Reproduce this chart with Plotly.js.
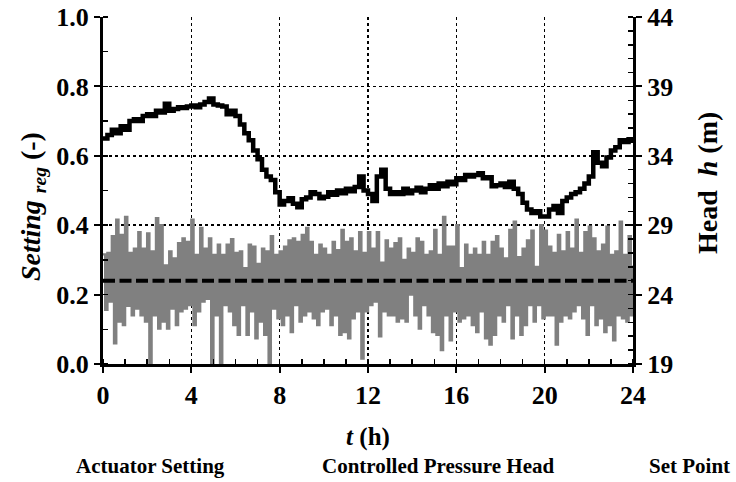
<!DOCTYPE html>
<html>
<head>
<meta charset="utf-8">
<script src="https://cdn.plot.ly/plotly-3.0.1.min.js"></script>
<style>html,body{margin:0;padding:0;background:#fff;}#chart{width:736px;height:482px;}</style>
</head>
<body>
<div id="chart"></div>
<script>
// Actuator setting (-), sampled every 0.2 h from t = 0 to 24 h
const settingStep = 0.2;
const actuatorSetting = [
  0.650,0.660,0.675,0.665,0.685,0.675,0.700,0.705,0.700,0.715,
  0.720,0.715,0.730,0.725,0.750,0.730,0.735,0.740,0.738,0.742,
  0.745,0.740,0.748,0.755,0.765,0.748,0.745,0.742,0.720,0.730,
  0.715,0.690,0.665,0.645,0.615,0.590,0.560,0.540,0.530,0.495,
  0.460,0.470,0.478,0.462,0.452,0.475,0.480,0.495,0.490,0.478,
  0.482,0.495,0.488,0.500,0.492,0.505,0.498,0.510,0.540,0.500,
  0.490,0.470,0.540,0.560,0.505,0.490,0.495,0.490,0.505,0.492,
  0.500,0.508,0.495,0.505,0.515,0.505,0.520,0.512,0.525,0.518,
  0.535,0.530,0.545,0.540,0.545,0.550,0.535,0.538,0.512,0.515,
  0.520,0.510,0.525,0.505,0.490,0.465,0.445,0.435,0.440,0.425,
  0.425,0.445,0.455,0.435,0.470,0.480,0.490,0.495,0.505,0.520,
  0.540,0.610,0.580,0.570,0.595,0.615,0.625,0.645,0.640,0.648,
  0.640
];

// Controlled pressure head (m): alternating high samples (t = 0, 0.2, ... 24)
const headHigh = [
  26.9,27.0,28.2,29.4,28.3,29.6,27.0,27.3,28.5,27.3,
  28.4,27.1,29.5,29.0,26.1,27.1,26.6,27.7,28.05,27.8,
  29.4,26.85,28.8,27.3,28.05,26.85,27.6,26.85,27.6,28.0,
  27.0,27.1,25.9,27.6,27.45,26.2,27.3,27.1,28.2,26.85,
  27.1,27.45,27.9,28.05,27.8,28.3,28.8,27.8,26.85,27.6,
  27.3,26.85,27.8,27.2,28.65,27.8,28.05,27.1,28.5,27.0,
  28.5,27.3,28.5,26.3,27.9,27.3,27.7,28.05,26.5,27.3,
  27.0,28.05,27.8,26.85,27.1,28.65,26.85,29.6,27.45,27.45,
  29.0,25.9,27.6,26.85,27.3,26.85,27.8,26.85,27.8,28.2,
  27.3,26.6,28.65,29.25,26.7,27.3,27.9,28.6,26.0,29.0,
  28.6,27.45,27.0,28.3,27.1,28.5,27.3,29.4,27.0,28.5,
  28.9,28.05,27.1,27.6,28.9,26.85,27.1,29.25,26.85,28.2,
  26.1
];
// ... and low samples (t = 0.1, 0.3, ... 23.9)
const headLow = [
  22.9,23.5,20.5,22.05,21.8,23.2,22.5,23.0,22.5,22.05,
  19.05,22.5,21.55,22.05,21.55,23.0,21.8,22.8,23.0,23.25,
  21.8,22.8,23.5,23.7,19.05,22.5,19.05,23.25,22.8,21.8,
  21.1,23.25,21.1,22.8,20.85,22.05,21.1,19.05,23.0,22.3,
  21.8,22.5,21.3,23.25,22.05,22.5,22.8,22.3,21.8,22.8,
  23.0,21.8,22.5,21.1,21.3,20.85,22.3,22.8,19.4,22.8,
  23.25,23.5,21.0,22.8,22.5,22.5,22.05,22.3,22.05,24.0,
  22.5,21.55,23.25,22.5,21.3,21.1,20.0,22.5,20.7,22.8,
  22.05,22.3,22.5,21.8,21.3,22.8,20.85,20.4,21.1,22.5,
  22.05,23.25,20.85,22.5,21.1,21.8,23.25,22.05,23.25,22.3,
  22.5,22.5,20.4,22.05,22.5,22.3,22.8,23.25,22.3,21.1,
  23.25,21.8,22.3,21.3,21.8,20.7,22.5,22.3,22.05,22.5
];

// Set point head (m)
const setPointT = [0, 24];
const setPointHead = [25, 25];

const legendLabels = ["Actuator Setting", "Controlled Pressure Head", "Set Point"];

// build traces
const settingT = actuatorSetting.map((_, i) => +(i * settingStep).toFixed(2));
const headT = [], headV = [];
for (let i = 0; i < headLow.length; i++) {
  headT.push(+(i * 0.2).toFixed(2)); headV.push(headHigh[i]);
  headT.push(+(i * 0.2 + 0.1).toFixed(2)); headV.push(headLow[i]);
}
headT.push(24); headV.push(headHigh[headHigh.length - 1]);

const F = "Liberation Serif, Times New Roman, serif";
const tf = {family: F, size: 26, color: "#000", weight: "bold"};
const ttf = {family: F, size: 25, color: "#000", weight: "bold"};
const ytf = {family: F, size: 28, color: "#000", weight: "bold"};
const lf = {family: F, size: 21, color: "#000", weight: "bold"};

const traces = [
  {x: headT, y: headV, yaxis: "y2", type: "scatter", mode: "lines",
   line: {color: "#808080", width: 2.4, shape: "hv"}, name: legendLabels[1], hoverinfo: "skip"},
  {x: setPointT, y: setPointHead, yaxis: "y2", type: "scatter", mode: "lines",
   line: {color: "#000", width: 4, dash: "12px,4.5px"}, name: legendLabels[2]},
  {x: settingT, y: actuatorSetting, type: "scatter", mode: "lines",
   line: {color: "#000", width: 4.5, shape: "hv"}, name: legendLabels[0]}
];

const layout = {
  width: 736, height: 482,
  margin: {l: 103, r: 103, t: 17, b: 118},
  paper_bgcolor: "#fff", plot_bgcolor: "#fff",
  showlegend: false,
  xaxis: {
    range: [0, 24], tick0: 0, dtick: 4, zeroline: false,
    showline: true, linecolor: "#000", linewidth: 3,
    ticks: "outside", ticklen: 6, tickwidth: 2, tickcolor: "#000",
    showgrid: true, gridcolor: "#000", griddash: "dot", gridwidth: 1.5,
    minor: {dtick: 1, ticks: "inside", ticklen: 5, tickwidth: 1.5, tickcolor: "#000", showgrid: false},
    tickfont: tf,
    title: {text: "<i>t</i> (h)", font: ttf, standoff: 19}
  },
  yaxis: {
    range: [0, 1], tick0: 0, dtick: 0.2, tickformat: ".1f", zeroline: false,
    showline: true, linecolor: "#000", linewidth: 3,
    ticks: "outside", ticklen: 6, tickwidth: 2, tickcolor: "#000",
    showgrid: true, gridcolor: "#000", griddash: "dot", gridwidth: 1.5,
    minor: {dtick: 0.1, ticks: "inside", ticklen: 5, tickwidth: 1.5, tickcolor: "#000", showgrid: false},
    tickfont: tf
  },
  yaxis2: {
    overlaying: "y", side: "right",
    range: [19, 44], tick0: 19, dtick: 5, zeroline: false, showgrid: false,
    showline: true, linecolor: "#000", linewidth: 3,
    ticks: "outside", ticklen: 6, tickwidth: 2, tickcolor: "#000",
    minor: {dtick: 1, ticks: "inside", ticklen: 5, tickwidth: 1.5, tickcolor: "#000", showgrid: false},
    tickfont: tf
  },
  annotations: [
    {text: "<i>Setting</i> <sub><i>reg</i></sub> (-)", textangle: -90, x: -0.134, y: 0.455,
     xref: "paper", yref: "paper", xanchor: "center", yanchor: "middle", showarrow: false, font: ytf},
    {text: "Head  <i>h</i> (m)", textangle: -90, x: 1.1396, y: 0.5216,
     xref: "paper", yref: "paper", xanchor: "center", yanchor: "middle", showarrow: false, font: ytf},
    {text: legendLabels[0], x: 0.0887, y: -0.294, xref: "paper", yref: "paper", xanchor: "center", yanchor: "middle", showarrow: false, font: lf},
    {text: legendLabels[1], x: 0.632, y: -0.294, xref: "paper", yref: "paper", xanchor: "center", yanchor: "middle", showarrow: false, font: lf},
    {text: legendLabels[2], x: 1.1075, y: -0.294, xref: "paper", yref: "paper", xanchor: "center", yanchor: "middle", showarrow: false, font: lf}
  ]
};

Plotly.newPlot("chart", traces, layout, {staticPlot: true, displayModeBar: false});
</script>
</body>
</html>
